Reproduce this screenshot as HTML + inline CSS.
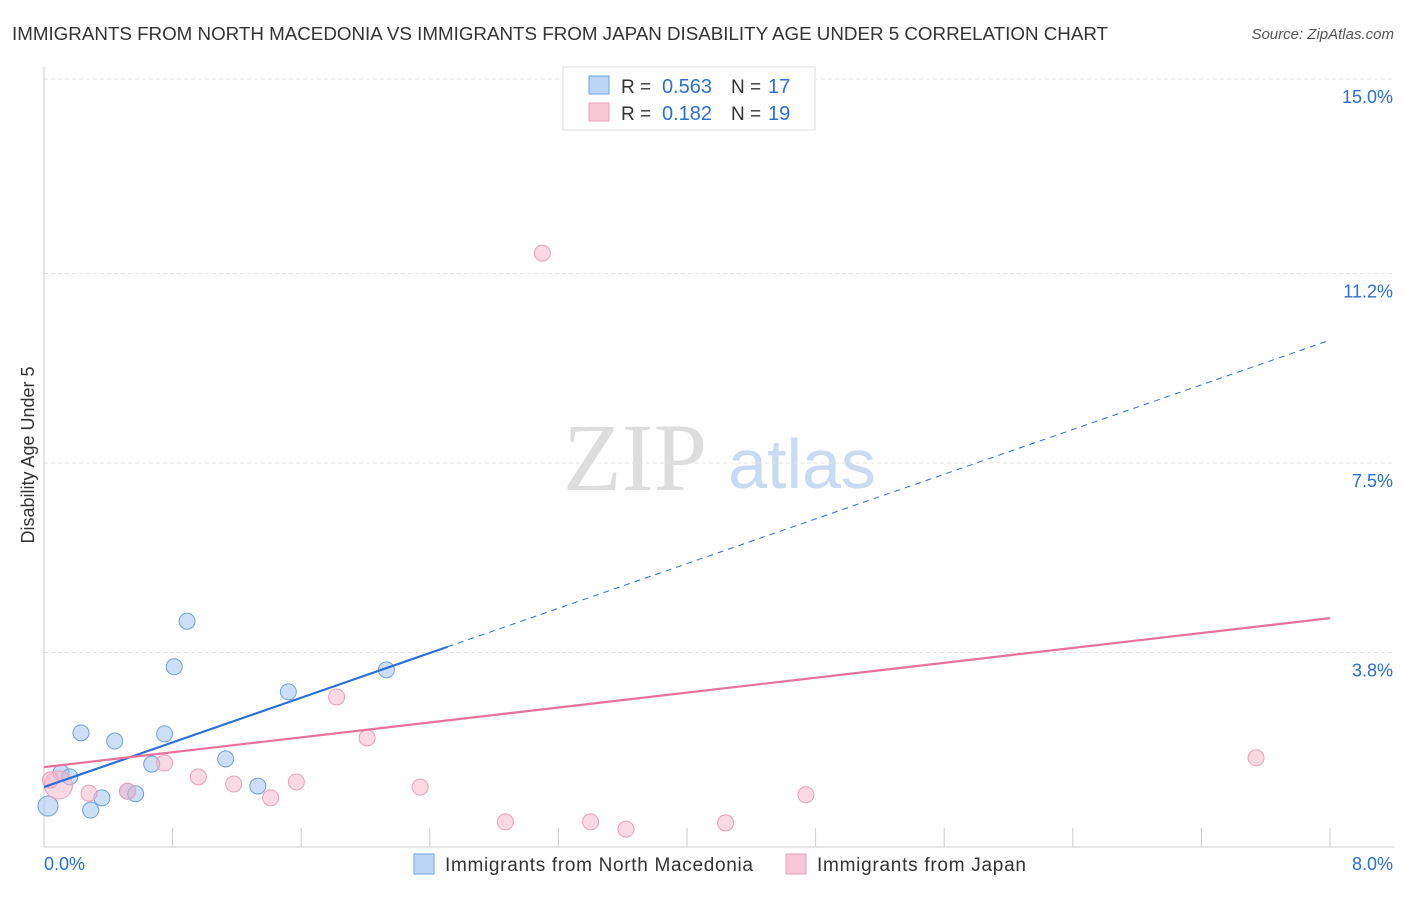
<!DOCTYPE html>
<html><head><meta charset="utf-8"><style>
body{margin:0;background:#fff;font-family:"Liberation Sans",sans-serif;}
</style></head><body>
<svg id="c" width="1406" height="892" xmlns="http://www.w3.org/2000/svg" font-family="Liberation Sans, sans-serif">
<text x="12" y="40" font-size="18" fill="#333" textLength="1096" lengthAdjust="spacingAndGlyphs">IMMIGRANTS FROM NORTH MACEDONIA VS IMMIGRANTS FROM JAPAN DISABILITY AGE UNDER 5 CORRELATION CHART</text>
<text x="1394" y="39" font-size="15" fill="#555" text-anchor="end" font-style="italic">Source: ZipAtlas.com</text>
<text x="34" y="455" font-size="18" fill="#333" text-anchor="middle" transform="rotate(-90 34 455)">Disability Age Under 5</text>
<g><text x="635" y="490" font-size="96" fill="#ddd" style="font-family:'Liberation Serif',serif" text-anchor="middle">ZIP</text><text x="802" y="488" font-size="70" fill="#c9daf3" text-anchor="middle">atlas</text></g>
<g id="grid"></g><g id="marks"></g>
<g>
<rect x="563" y="67" width="252" height="63" fill="#fff" stroke="#ddd"/>
<rect x="589" y="76" width="20" height="18" fill="#bcd4f5" stroke="#6fa0e0"/>
<text x="621" y="93" font-size="19" fill="#333">R =</text><text x="712" y="93" font-size="20" fill="#2a6fd6" text-anchor="end">0.563</text>
<text x="731" y="93" font-size="19" fill="#333">N =</text><text x="768" y="93" font-size="20" fill="#2a6fd6">17</text>
<rect x="589" y="103" width="20" height="18" fill="#f8c7d6" stroke="#eaa0b8"/>
<text x="621" y="120" font-size="19" fill="#333">R =</text><text x="712" y="120" font-size="20" fill="#2a6fd6" text-anchor="end">0.182</text>
<text x="731" y="120" font-size="19" fill="#333">N =</text><text x="768" y="120" font-size="20" fill="#2a6fd6">19</text>
</g>
<g>
<rect x="414" y="854" width="20" height="20" fill="#bcd4f5" stroke="#6fa0e0"/>
<text x="445" y="871" font-size="19" fill="#333" textLength="308">Immigrants from North Macedonia</text>
<rect x="786" y="854" width="20" height="20" fill="#f8c7d6" stroke="#eaa0b8"/>
<text x="817" y="871" font-size="19" fill="#333" textLength="209">Immigrants from Japan</text>
</g>
</svg>
<script>
const yTicks=[3.8,7.5,11.2,15.0];
const yTickLabels=["3.8%","7.5%","11.2%","15.0%"];
const xTickLabels=["0.0%","8.0%"];
const blueX=[0.025,0.106,0.16,0.23,0.29,0.36,0.44,0.52,0.57,0.67,0.75,0.81,0.89,1.13,1.33,1.52,2.13];
const blueY=[0.80,1.45,1.37,2.23,0.72,0.96,2.07,1.09,1.04,1.62,2.21,3.52,4.41,1.72,1.19,3.03,3.46];
const pinkX=[0.09,0.04,0.28,0.52,0.75,0.96,1.18,1.41,1.57,1.82,2.01,2.34,2.87,3.10,3.40,3.62,4.24,4.74,7.54];
const pinkY=[1.21,1.31,1.05,1.09,1.64,1.37,1.23,0.96,1.27,2.93,2.13,1.17,0.49,11.60,0.49,0.35,0.47,1.02,1.74];
const blueLine=[1.17,9.90]; const blueSolidEnd=2.51;
const pinkLine=[1.56,4.47];
const NS="http://www.w3.org/2000/svg";
const X=v=>44+v*160.75, Y=v=>847-v*51.2;
function mk(t,a,p){const e=document.createElementNS(NS,t);for(const k in a)e.setAttribute(k,a[k]);p.appendChild(e);return e;}
const g=document.getElementById('grid'), m=document.getElementById('marks');
yTicks.forEach((t,i)=>{
 const l=mk('line',{x1:44,x2:1394,y1:Y(t),y2:Y(t),stroke:'#e3e3e3','stroke-dasharray':'4,3'},g);
 
 
 const tx=mk('text',{x:1393,y:Y(t)+24,'font-size':18,fill:'#2a6fd6','text-anchor':'end'},g);tx.textContent=yTickLabels[i];
 
 
});
const ax=mk('line',{x1:44,x2:44,y1:67,y2:847,stroke:'#ccc'},g);


const bx=mk('line',{x1:44,x2:1394,y1:847,y2:847,stroke:'#ccc'},g);


for(let i=1;i<=10;i++){const t=mk('line',{x1:X(i*0.8),x2:X(i*0.8),y1:828,y2:847,stroke:'#ccc'},g);
 
 }
[[44,'start'],[1393,'end']].forEach((p,i)=>{const t=mk('text',{x:p[0],y:870,'font-size':18,fill:'#2a6fd6','text-anchor':p[1]},g);t.textContent=xTickLabels[i];
 
 });
function pt(x,y,r,f,s,n){const c=mk('circle',{cx:X(x),cy:Y(y),r:r,fill:f,stroke:s,'stroke-width':1},m);
 
 }
blueX.forEach((x,i)=>pt(x,blueY[i],i==0?10:8,'rgba(163,196,240,0.55)','#6fa0e0','point-macedonia'));
pinkX.forEach((x,i)=>pt(x,pinkY[i],i==0?14:8,'rgba(248,180,200,0.5)','#eaa0b8','point-japan'));
const by=v=>blueLine[0]+(blueLine[1]-blueLine[0])*v/8;
let l1=mk('line',{x1:X(0),y1:Y(by(0)),x2:X(blueSolidEnd),y2:Y(by(blueSolidEnd)),stroke:'#2a6fd6','stroke-width':2.2},m);


let l2=mk('line',{x1:X(blueSolidEnd),y1:Y(by(blueSolidEnd)),x2:X(8),y2:Y(by(8)),stroke:'#2a6fd6','stroke-width':1,'stroke-dasharray':'6,5'},m);


let l3=mk('line',{x1:X(0),y1:Y(pinkLine[0]),x2:X(8),y2:Y(pinkLine[1]),stroke:'#e8719a','stroke-width':2.2},m);


</script>
</body></html>
